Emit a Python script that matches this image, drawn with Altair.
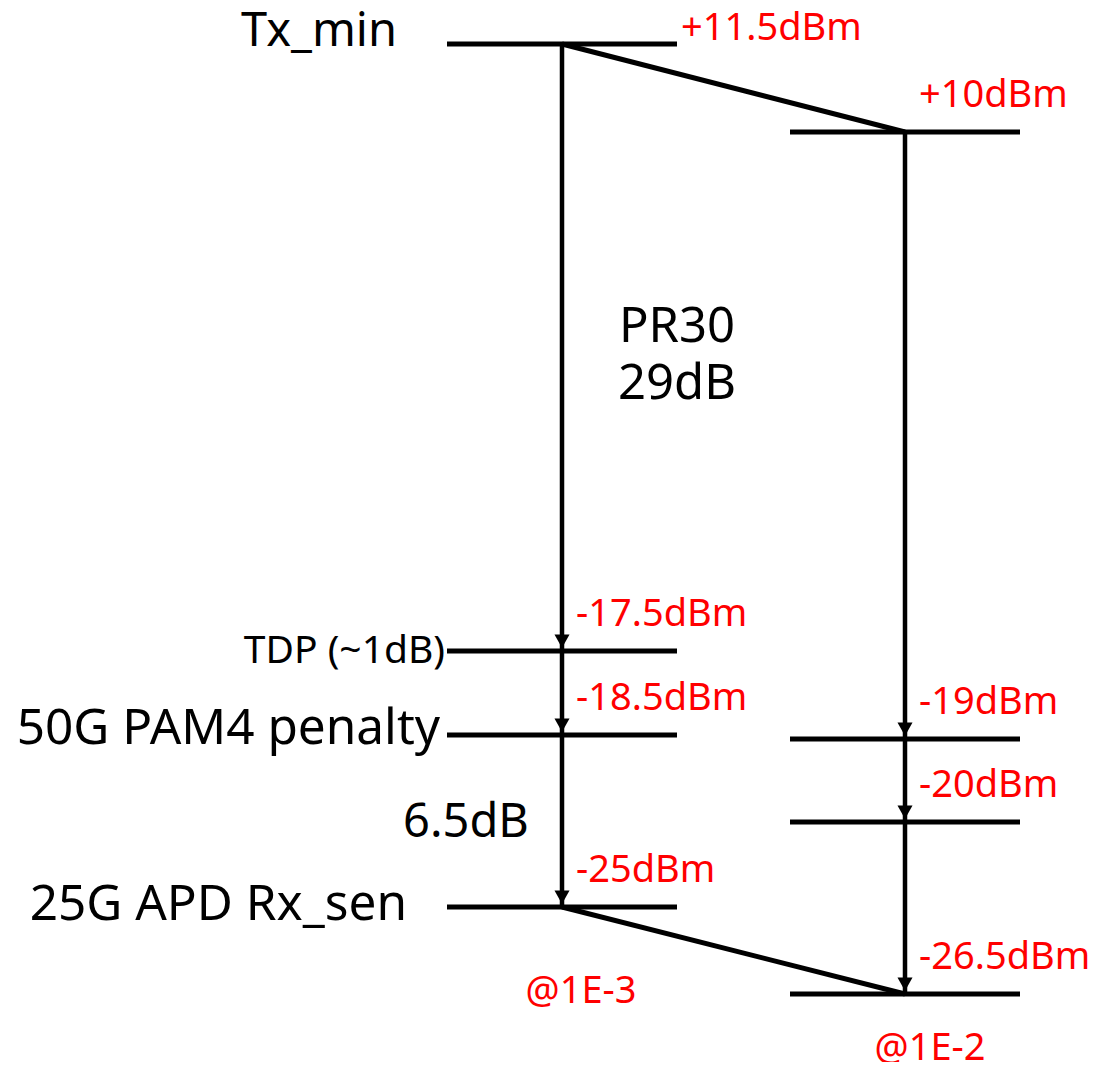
import altair as alt
import pandas as pd

# ---------------- data ----------------
COL_NAMES = ["BER 1E-3", "BER 1E-2"]          # column 0 (left), column 1 (right)
LEFT_LEVELS = [11.5, -17.5, -18.5, -25.0]      # dBm
RIGHT_LEVELS = [10.0, -19.0, -20.0, -26.5]     # dBm
LEFT_NAMES = ["Tx_min", "TDP (~1dB)", "50G PAM4 penalty", "25G APD Rx_sen"]
BER_LABELS = ["@1E-3", "@1E-2"]
BUDGET_TEXT = ["PR30", "29dB"]
GAP_TEXT = "6.5dB"

FONT = "Noto Sans"
RED = "#FF0000"
RED_SIZE = 38


def dbm_label(v):
    return f"{v:+g}dBm"


levels = pd.DataFrame(
    [{"col": 0, "dbm": v, "label": dbm_label(v), "first": i == 0} for i, v in enumerate(LEFT_LEVELS)]
    + [{"col": 1, "dbm": v, "label": dbm_label(v), "first": False} for v in RIGHT_LEVELS]
)

vsegs = []
for c, lv in enumerate([LEFT_LEVELS, RIGHT_LEVELS]):
    for a, b in zip(lv[:-1], lv[1:]):
        vsegs.append({"col": c, "col2": c, "dbm": a, "dbm2": b})
vsegs = pd.DataFrame(vsegs)

diags = pd.DataFrame([
    {"col": 0, "col2": 1, "dbm": LEFT_LEVELS[0], "dbm2": RIGHT_LEVELS[0]},
    {"col": 0, "col2": 1, "dbm": LEFT_LEVELS[-1], "dbm2": RIGHT_LEVELS[-1]},
])

# ---------------- scales (diagram layout, not to scale in dBm) ----------------
Y_BREAKS = sorted(LEFT_LEVELS + RIGHT_LEVELS, reverse=True)
Y_PIX = [36, 124, 643, 727, 731, 814, 899, 986]
xs = alt.Scale(domain=[0, 1], range=[554, 897], nice=False, zero=False)
ys = alt.Scale(domain=Y_BREAKS, range=Y_PIX, nice=False, zero=False)

X = alt.X("col:Q", scale=xs, axis=None)
Y = alt.Y("dbm:Q", scale=ys, axis=None)

ticks = alt.Chart(levels).mark_tick(
    orient="horizontal", size=230, thickness=5, color="black", opacity=1
).encode(x=X, y=Y)

shafts = alt.Chart(vsegs).mark_rule(color="black", strokeWidth=4.5, strokeCap="butt").encode(
    x=X, x2="col2:Q", y=Y, y2="dbm2:Q"
)

slants = alt.Chart(diags).mark_rule(color="black", strokeWidth=5, strokeCap="butt").encode(
    x=X, x2="col2:Q", y=Y, y2="dbm2:Q"
)

heads = alt.Chart(vsegs).mark_point(
    shape="M-1,-1.8L1,-1.8L0,0Z", size=225, filled=True, color="black",
    opacity=1, strokeWidth=0, yOffset=-3
).encode(x=X, y=alt.Y("dbm2:Q", scale=ys, axis=None))

red_labels = alt.Chart(levels).transform_filter("!datum.first").mark_text(
    align="left", baseline="alphabetic", dx=14, dy=-25, fontSize=RED_SIZE, font=FONT, color=RED
).encode(x=X, y=Y, text="label:N")

top_label = alt.Chart(levels).transform_filter("datum.first").mark_text(
    align="left", baseline="alphabetic", dx=119, dy=-4, fontSize=RED_SIZE, font=FONT, color=RED
).encode(x=X, y=Y, text="label:N")


def note(text, col, dbm, dx, dy, size, color="black", align="right"):
    df = pd.DataFrame([{"col": col, "dbm": dbm, "t": text}])
    return alt.Chart(df).mark_text(
        align=align, baseline="alphabetic", dx=dx, dy=dy, fontSize=size, font=FONT, color=color
    ).encode(x=X, y=Y, text="t")


names = [
    note(LEFT_NAMES[0], 0, LEFT_LEVELS[0], -165, 2, 47),
    note(LEFT_NAMES[1], 0, LEFT_LEVELS[1], -117, 12, 39),
    note(LEFT_NAMES[2], 0, LEFT_LEVELS[2], -122, 9, 49.5),
    note(LEFT_NAMES[3], 0, LEFT_LEVELS[3], -155, 13, 49.5),
]
gap = note(GAP_TEXT, 0, LEFT_LEVELS[2], -96, 102, 47, align="center")
budget = [
    note(BUDGET_TEXT[0], 0, RIGHT_LEVELS[0], 115, 210, 49, align="center"),
    note(BUDGET_TEXT[1], 0, RIGHT_LEVELS[0], 115, 267, 49, align="center"),
]
ber = [
    note(BER_LABELS[0], 0, LEFT_LEVELS[-1], 19, 96, RED_SIZE, color=RED, align="center"),
    note(BER_LABELS[1], 1, RIGHT_LEVELS[-1], 25, 66, RED_SIZE, color=RED, align="center"),
]

chart = alt.layer(
    ticks, slants, shafts, heads, red_labels, top_label, *names, gap, *budget, *ber
).properties(
    width=1081, height=1054, padding=0,
    autosize=alt.AutoSizeParams(type="none"),
    background="white",
).configure_view(stroke=None)

chart.save("out.html", embed_options={"renderer": "svg", "actions": False})
